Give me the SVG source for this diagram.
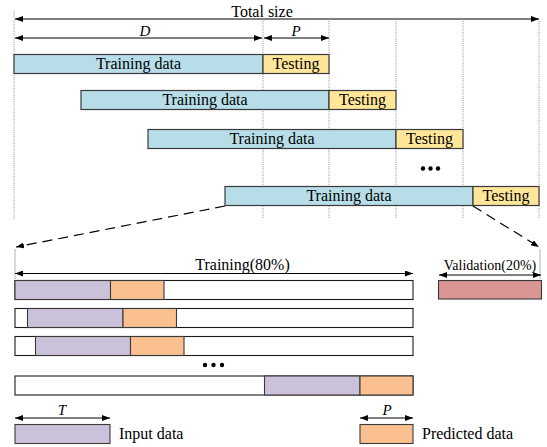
<svg xmlns="http://www.w3.org/2000/svg" width="547" height="447" viewBox="0 0 547 447">
  <style>
    text { font-family: "Liberation Serif", "Times New Roman", serif; font-size: 16px; fill: #000; }
    .it { font-style: italic; font-size: 15px; }
    .small { font-size: 14px; }
    .grid { stroke: #8c8c8c; stroke-width: 1; stroke-dasharray: 1 1.2; fill: none; }
    .dim { stroke: #000; stroke-width: 1.1; fill: none; marker-start: url(#ah); marker-end: url(#ah); }
    .tick { stroke: #a0a0a0; stroke-width: 0.8; fill: none; }
    .train { fill: #b7dee8; stroke: #3a3a3a; stroke-width: 1.2; }
    .test { fill: #ffe699; stroke: #3a3a3a; stroke-width: 1.2; }
    .win { fill: #ffffff; stroke: #1a1a1a; stroke-width: 1.1; }
    .inp { fill: #ccc1da; stroke: #3a3a3a; stroke-width: 1.1; }
    .pred { fill: #fac090; stroke: #3a3a3a; stroke-width: 1.1; }
    .val { fill: #d99694; stroke: #3a3a3a; stroke-width: 1.1; }
    .zoom { stroke: #000; stroke-width: 1.2; stroke-dasharray: 10 6; fill: none; marker-end: url(#ah); }
  </style>
  <defs>
    <marker id="ah" viewBox="0 0 8 6" refX="8" refY="3" markerWidth="8" markerHeight="6" markerUnits="userSpaceOnUse" orient="auto-start-reverse">
      <path d="M0,0 L8,3 L0,6 z" fill="#000"/>
    </marker>
  </defs>

  <!-- dotted guide lines -->
  <g id="guides">
    <line class="grid" x1="14" y1="11" x2="14" y2="219"/>
    <line class="grid" x1="263" y1="21" x2="263" y2="219"/>
    <line class="grid" x1="329" y1="21" x2="329" y2="219"/>
    <line class="grid" x1="396" y1="21" x2="396" y2="219"/>
    <line class="grid" x1="463" y1="21" x2="463" y2="219"/>
    <line class="grid" x1="539" y1="21" x2="539" y2="219"/>
  </g>

  <!-- dimension arrows and labels -->
  <g id="dimensions">
    <line class="dim" x1="15" y1="19" x2="539" y2="19"/>
    <text x="262" y="17" text-anchor="middle">Total size</text>
    <line class="dim" x1="15" y1="38" x2="262" y2="38"/>
    <text class="it" x="145" y="36" text-anchor="middle">D</text>
    <line class="dim" x1="264" y1="38" x2="329" y2="38"/>
    <text class="it" x="296" y="36" text-anchor="middle">P</text>
  </g>

  <!-- rolling windows -->
  <g id="window1">
    <rect class="train" x="14" y="54.5" width="249" height="19"/>
    <rect class="test" x="263" y="54.5" width="66" height="19"/>
    <text x="138.5" y="69" text-anchor="middle">Training data</text>
    <text x="296" y="69" text-anchor="middle">Testing</text>
  </g>
  <g id="window2">
    <rect class="train" x="81" y="90.5" width="248" height="19"/>
    <rect class="test" x="329" y="90.5" width="67" height="19"/>
    <text x="205" y="105" text-anchor="middle">Training data</text>
    <text x="362.5" y="105" text-anchor="middle">Testing</text>
  </g>
  <g id="window3">
    <rect class="train" x="148" y="129.5" width="248" height="19"/>
    <rect class="test" x="396" y="129.5" width="67" height="19"/>
    <text x="272" y="144" text-anchor="middle">Training data</text>
    <text x="429.5" y="144" text-anchor="middle">Testing</text>
  </g>
  <g id="dots-top">
    <circle cx="423" cy="168.5" r="2.2"/>
    <circle cx="430.5" cy="168.5" r="2.2"/>
    <circle cx="438" cy="168.5" r="2.2"/>
  </g>
  <g id="window4">
    <rect class="train" x="225" y="186.5" width="248" height="19"/>
    <rect class="test" x="473" y="186.5" width="66" height="19"/>
    <text x="349" y="201" text-anchor="middle">Training data</text>
    <text x="506" y="201" text-anchor="middle">Testing</text>
  </g>

  <!-- connectors from the last window down to the split -->
  <g id="connectors">
    <line class="zoom" x1="225" y1="206" x2="16" y2="247"/>
    <line class="zoom" x1="473" y1="206" x2="539" y2="247"/>
  </g>

  <!-- training / validation split -->
  <g id="split">
    <line class="tick" x1="15" y1="249" x2="15" y2="279"/>
    <line class="tick" x1="540" y1="249" x2="540" y2="279"/>
    <line class="dim" x1="15" y1="273.5" x2="413" y2="273.5"/>
    <text x="242.5" y="270" text-anchor="middle">Training(80%)</text>
    <line class="dim" x1="439" y1="275" x2="541" y2="275"/>
    <text class="small" x="490" y="270" text-anchor="middle">Validation(20%)</text>
  </g>
  <g id="validation">
    <rect class="val" x="438.5" y="280.5" width="103" height="18.5"/>
  </g>

  <!-- sliding input/prediction samples -->
  <g id="sample1">
    <rect class="win" x="15" y="280.5" width="398" height="19"/>
    <rect class="inp" x="15" y="280.5" width="95.5" height="19"/>
    <rect class="pred" x="110.5" y="280.5" width="53.5" height="19"/>
  </g>
  <g id="sample2">
    <rect class="win" x="15" y="308.5" width="398" height="19"/>
    <rect class="inp" x="27.5" y="308.5" width="95.5" height="19"/>
    <rect class="pred" x="123" y="308.5" width="53.5" height="19"/>
  </g>
  <g id="sample3">
    <rect class="win" x="15" y="336.5" width="398" height="19"/>
    <rect class="inp" x="35.5" y="336.5" width="95" height="19"/>
    <rect class="pred" x="130.5" y="336.5" width="53.5" height="19"/>
  </g>
  <g id="dots-bottom">
    <circle cx="205" cy="365" r="2.2"/>
    <circle cx="213.5" cy="365" r="2.2"/>
    <circle cx="222" cy="365" r="2.2"/>
  </g>
  <g id="sample4">
    <rect class="win" x="15" y="376" width="398" height="19"/>
    <rect class="inp" x="264.5" y="376" width="95.5" height="19"/>
    <rect class="pred" x="360" y="376" width="53" height="19"/>
  </g>

  <!-- legend -->
  <g id="legend-input">
    <line class="dim" x1="15" y1="418" x2="110" y2="418"/>
    <text class="it" x="62" y="415" text-anchor="middle">T</text>
    <rect class="inp" x="15" y="424.5" width="95" height="19"/>
    <text x="119" y="439">Input data</text>
  </g>
  <g id="legend-predicted">
    <line class="dim" x1="360" y1="418" x2="413" y2="418"/>
    <text class="it" x="387" y="415" text-anchor="middle">P</text>
    <rect class="pred" x="360" y="424.5" width="53" height="19"/>
    <text x="422" y="439">Predicted data</text>
  </g>
</svg>
